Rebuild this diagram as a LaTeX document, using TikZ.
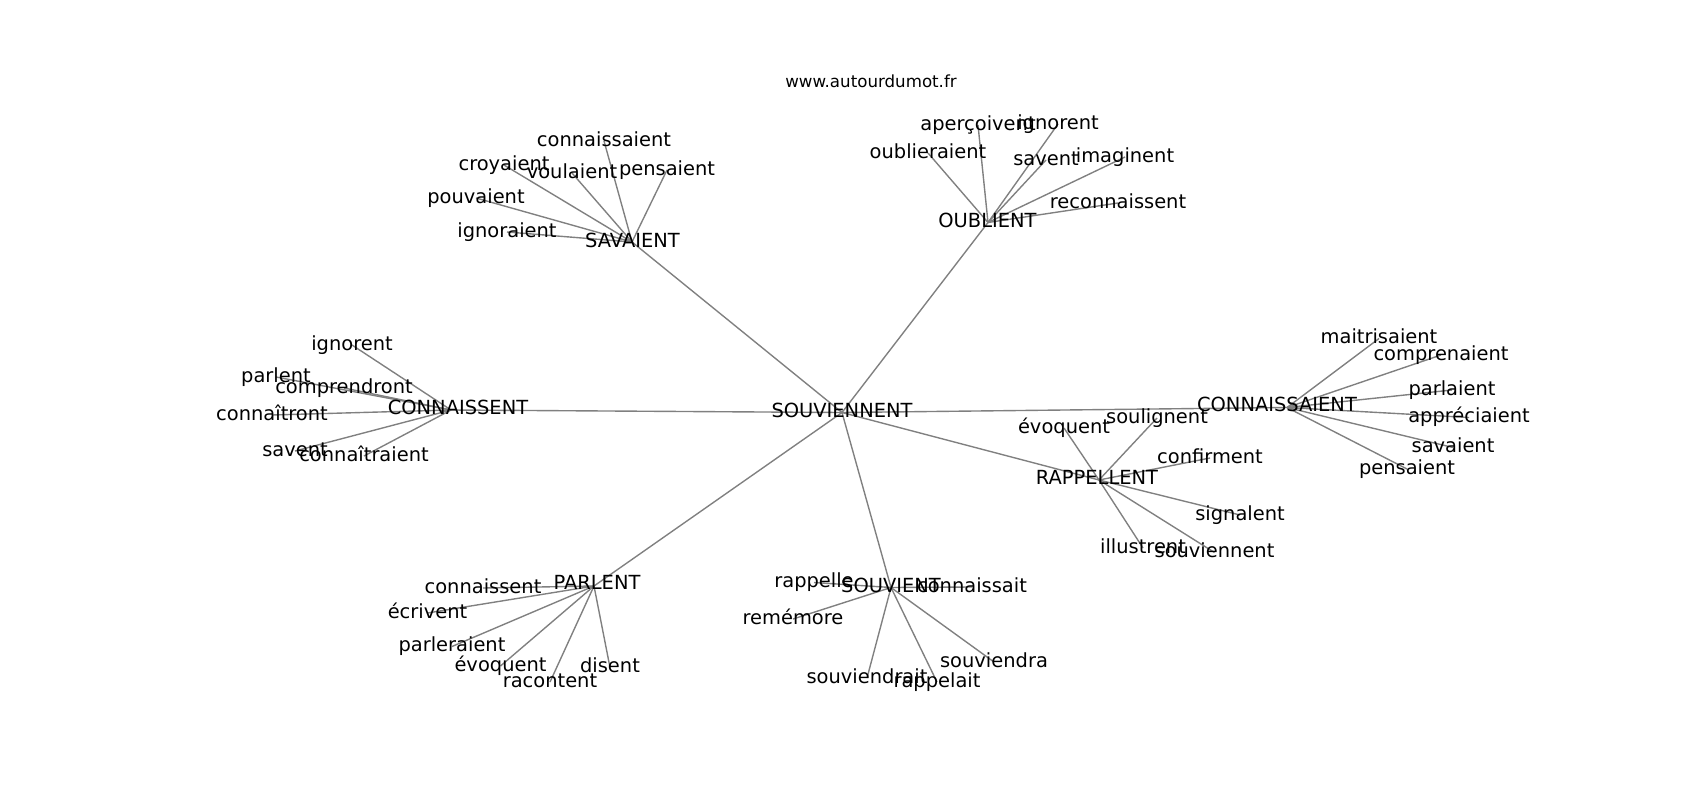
\documentclass[tikz,border=0pt]{standalone}
\usepackage{fontspec}
\setmainfont{DejaVu Sans}
\begin{document}
\begin{tikzpicture}[x=0.72pt,y=-0.72pt,
  lbl/.style={font=\fontsize{14}{16}\selectfont, inner sep=0pt, text height=10.64pt, text depth=2.9pt, anchor=center},
  ttl/.style={font=\fontsize{12}{14}\selectfont, inner sep=0pt, text height=9.12pt, text depth=2.5pt, anchor=center},
  edge/.style={draw=gray, line width=1pt}]
\useasboundingbox (0,0) rectangle (1700,800);
% hubs
\coordinate (SV) at (842,412.5);
\coordinate (SA) at (632,242);
\coordinate (OU) at (988,222.5);
\coordinate (CN) at (451,410);
\coordinate (CS) at (1287,407.5);
\coordinate (RA) at (1099,480);
\coordinate (PA) at (594,586);
\coordinate (SO) at (891,587.5);
% leaves
\foreach \n/\x/\y in {sa1/604/141, sa2/504/165, sa3/572/173, sa4/667/170, sa5/476/198, sa6/507/232,
  ou1/978/125, ou2/1058/124, ou3/928/153, ou4/1046/160, ou5/1125/157, ou6/1118/203,
  cn1/352/345, cn2/276/377, cn3/344/388, cn4/272/415, cn5/295/451, cn6/364/456,
  cs1/1379/338.5, cs2/1441/355, cs3/1452/390, cs4/1469/417.5, cs5/1453/447.5, cs6/1407/469,
  ra1/1064/428, ra2/1157/418, ra3/1210/458, ra4/1240/515, ra5/1143/548, ra6/1214.5/552.5,
  pa1/483/588, pa2/427.5/613, pa3/452/646.5, pa4/500.5/666, pa5/550/682, pa6/610/667.5,
  so1/814/582.5, so2/972/587, so3/793/619, so4/994/662, so5/867/678, so6/937/682}
  \coordinate (\n) at (\x,\y);
% edges
\foreach \h in {SA,OU,CN,CS,RA,PA,SO} \draw[edge] (SV) -- (\h);
\foreach \i in {1,...,6} {
  \draw[edge] (SA) -- (sa\i);
  \draw[edge] (OU) -- (ou\i);
  \draw[edge] (CN) -- (cn\i);
  \draw[edge] (CS) -- (cs\i);
  \draw[edge] (RA) -- (ra\i);
  \draw[edge] (PA) -- (pa\i);
  \draw[edge] (SO) -- (so\i);
}
% title
\node[ttl] (title) at (871,83) {www.autourdumot.fr};
% hub labels
\node[lbl] (lSV) at (SV) {SOUVIENNENT};
\node[lbl] (lSA) at (632.5,242.5) {SAVAIENT};
\node[lbl] (lOU) at (987.5,222.5) {OUBLIENT};
\node[lbl] (lCN) at (458,409) {CONNAISSENT};
\node[lbl] (lCS) at (1277,406.5) {CONNAISSAIENT};
\node[lbl] (lRA) at (1097,479) {RAPPELLENT};
\node[lbl] (lPA) at (597,584) {PARLENT};
\node[lbl] (lSO) at (891,587.3) {SOUVIENT};
% leaf labels
\foreach \n/\t in {sa1/connaissaient, sa2/croyaient, sa3/voulaient, sa4/pensaient, sa5/pouvaient, sa6/ignoraient,
  ou1/aperçoivent, ou2/ignorent, ou3/oublieraient, ou4/savent, ou5/imaginent, ou6/reconnaissent,
  cn1/ignorent, cn2/parlent, cn3/comprendront, cn4/connaîtront, cn5/savent, cn6/connaîtraient,
  cs1/maitrisaient, cs2/comprenaient, cs3/parlaient, cs4/appréciaient, cs5/savaient, cs6/pensaient,
  ra1/évoquent, ra2/soulignent, ra3/confirment, ra4/signalent, ra5/illustrent, ra6/souviennent,
  pa1/connaissent, pa2/écrivent, pa3/parleraient, pa4/évoquent, pa5/racontent, pa6/disent,
  so1/rappelle, so2/connaissait, so3/remémore, so4/souviendra, so5/souviendrait, so6/rappelait}
  \node[lbl] (l\n) at (\n) {\t};
\end{tikzpicture}
\end{document}
